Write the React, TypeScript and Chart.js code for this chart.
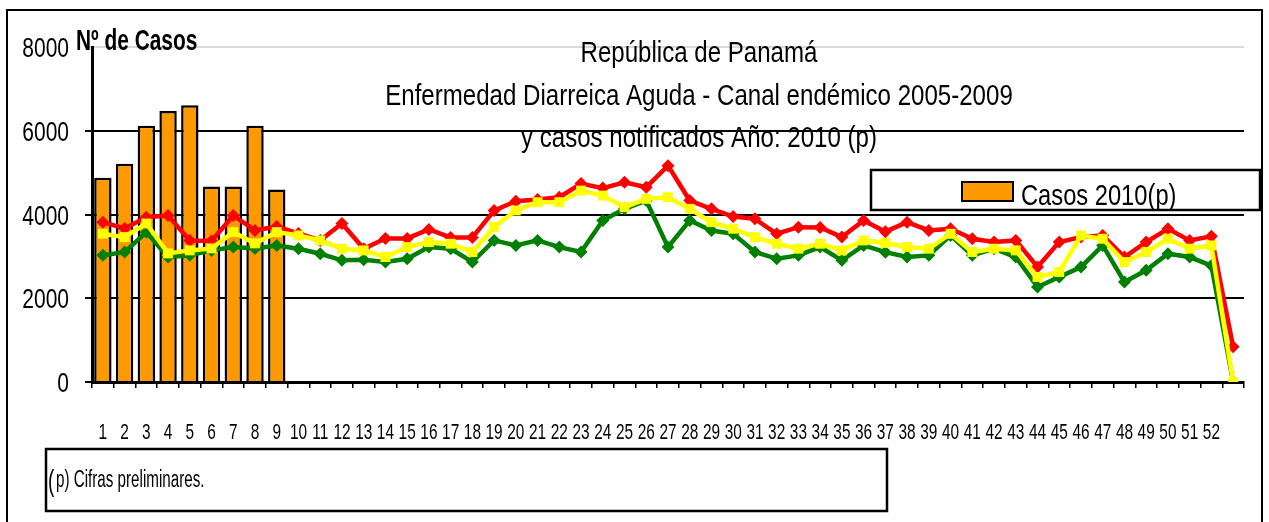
import React, { useEffect, useRef } from "react";
import { Chart, registerables } from "chart.js";

Chart.register(...registerables);

const weeks = [
  "1", "2", "3", "4", "5", "6", "7", "8", "9", "10",
  "11", "12", "13", "14", "15", "16", "17", "18", "19", "20",
  "21", "22", "23", "24", "25", "26", "27", "28", "29", "30",
  "31", "32", "33", "34", "35", "36", "37", "38", "39", "40",
  "41", "42", "43", "44", "45", "46", "47", "48", "49", "50",
  "51", "52", "",
];

const casos2010 = [4880, 5210, 6120, 6470, 6610, 4670, 4670, 6120, 4600];

const zonaAlta = [
  3817, 3667, 3936, 3976, 3381, 3370, 3976, 3619, 3714, 3548,
  3381, 3786, 3180, 3429, 3429, 3643, 3452, 3452, 4095, 4317,
  4357, 4413, 4738, 4630, 4770, 4651, 5167, 4333, 4135, 3952,
  3897, 3540, 3698, 3690, 3460, 3857, 3590, 3817, 3619, 3659,
  3421, 3341, 3381, 2746, 3341, 3460, 3500, 2984, 3341, 3659,
  3381, 3480, 841,
];

const zonaMedia = [
  3540, 3460, 3786, 3071, 3143, 3190, 3579, 3310, 3579, 3500,
  3381, 3183, 3143, 2984, 3222, 3341, 3302, 3103, 3698, 4095,
  4294, 4294, 4571, 4452, 4175, 4373, 4413, 4135, 3817, 3659,
  3460, 3302, 3183, 3302, 3143, 3381, 3320, 3222, 3183, 3540,
  3103, 3183, 3143, 2508, 2627, 3500, 3421, 2865, 3103, 3421,
  3183, 3262, 0,
];

const zonaBaja = [
  3024, 3103, 3579, 2984, 3024, 3143, 3222, 3190, 3262, 3183,
  3063, 2905, 2921, 2865, 2944, 3222, 3183, 2865, 3381, 3262,
  3381, 3222, 3103, 3857, 4135, 4333, 3222, 3857, 3619, 3540,
  3103, 2944, 3024, 3222, 2905, 3262, 3100, 2984, 3024, 3500,
  3024, 3183, 2984, 2270, 2508, 2746, 3262, 2389, 2667, 3063,
  2984, 2780, 0,
];

const yTicks = [0, 2000, 4000, 6000, 8000];

const titleLines = [
  "República de Panamá",
  "Enfermedad Diarreica Aguda - Canal endémico 2005-2009",
  "y casos notificados Año: 2010 (p)",
];
const yAxisTitle = "Nº de Casos";
const legendLabel = "Casos 2010(p)";
const footnote = "p) Cifras preliminares.";

const FONT = "'Liberation Sans', Arial, sans-serif";

function drawText(
  ctx: CanvasRenderingContext2D,
  text: string,
  x: number,
  y: number,
  font: string,
  align: CanvasTextAlign,
  sx = 1
) {
  ctx.save();
  ctx.font = font;
  ctx.fillStyle = "#000";
  ctx.textAlign = align;
  ctx.textBaseline = "alphabetic";
  ctx.translate(x, y);
  ctx.scale(sx, 1);
  ctx.fillText(text, 0, 0);
  ctx.restore();
}

const decoPlugin = {
  id: "deco",
  beforeDraw(chart: any) {
    const ctx = chart.ctx as CanvasRenderingContext2D;
    ctx.save();
    ctx.fillStyle = "#fff";
    ctx.fillRect(0, 0, chart.width, chart.height);
    ctx.restore();
  },
  afterDraw(chart: any) {
    const ctx = chart.ctx as CanvasRenderingContext2D;
    const xs = chart.scales.x;
    const ys = chart.scales.y;
    ctx.save();

    // axis tick labels (positions from the chart's scales)
    weeks.forEach((lab, i) => {
      if (!lab) return;
      drawText(ctx, lab, xs.getPixelForTick(i), 439, `22px ${FONT}`, "center", 0.7);
    });
    yTicks.forEach((v) => {
      drawText(ctx, String(v), 69, ys.getPixelForValue(v) + 10, `28px ${FONT}`, "right", 0.75);
    });

    // outer frame
    ctx.strokeStyle = "#000";
    ctx.lineWidth = 2;
    ctx.strokeRect(7, 10, 1255, 530);

    // title
    drawText(ctx, titleLines[0], 699, 62, `29px ${FONT}`, "center", 0.83);
    drawText(ctx, titleLines[1], 699, 105, `29px ${FONT}`, "center", 0.83);
    drawText(ctx, titleLines[2], 699, 147, `29px ${FONT}`, "center", 0.83);

    // y title
    drawText(ctx, yAxisTitle, 76, 50, `bold 29px ${FONT}`, "left", 0.72);

    // legend
    ctx.fillStyle = "#fff";
    ctx.fillRect(871, 170, 389, 40);
    ctx.lineWidth = 2.5;
    ctx.strokeStyle = "#000";
    ctx.strokeRect(871, 170, 389, 40);
    ctx.fillStyle = "#FF9900";
    ctx.fillRect(962, 182, 51, 19);
    ctx.lineWidth = 2;
    ctx.strokeRect(962, 182, 51, 19);
    drawText(ctx, legendLabel, 1021, 205, `30px ${FONT}`, "left", 0.79);

    // footnote
    ctx.lineWidth = 2.5;
    ctx.strokeRect(46, 449, 841, 62);
    drawText(ctx, "(", 48, 491, `29px ${FONT}`, "left", 0.66);
    drawText(ctx, footnote, 56, 487, `23px ${FONT}`, "left", 0.66);
    ctx.restore();
  },
};

export default function App() {
  const ref = useRef<HTMLCanvasElement | null>(null);
  useEffect(() => {
    if (!ref.current) return;
    const chart = new Chart(ref.current, {
      data: {
        labels: weeks,
        datasets: [
          {
            type: "line",
            label: "Superior",
            data: zonaAlta,
            borderColor: "#FF0000",
            backgroundColor: "#FF0000",
            borderWidth: 4.5,
            pointStyle: "rectRot",
            pointRadius: 6.5,
            pointBorderWidth: 0,
            order: 2,
          },
          {
            type: "line",
            label: "Mediana",
            data: zonaMedia,
            borderColor: "#FFFF00",
            backgroundColor: "#FFFF00",
            borderWidth: 4.5,
            pointStyle: "rect",
            pointRadius: 7,
            pointBorderWidth: 0,
            order: 1,
          },
          {
            type: "line",
            label: "Inferior",
            data: zonaBaja,
            borderColor: "#008000",
            backgroundColor: "#008000",
            borderWidth: 4.5,
            pointStyle: "rectRot",
            pointRadius: 6.5,
            pointBorderWidth: 0,
            order: 3,
          },
          {
            type: "bar",
            label: legendLabel,
            data: casos2010,
            backgroundColor: "#FF9900",
            borderColor: "#000",
            borderWidth: 2.5,
            barPercentage: 0.8,
            categoryPercentage: 1,
            order: 10,
          },
        ],
      },
      options: {
        responsive: false,
        animation: false,
        layout: { padding: { left: 0, right: 25, top: 47, bottom: 0 } },
        plugins: {
          legend: { display: false },
          title: { display: false },
          tooltip: { enabled: false },
        },
        scales: {
          x: {
            type: "category",
            offset: true,
            grid: {
              offset: true,
              drawOnChartArea: false,
              color: "#000",
              lineWidth: 1.5,
              tickLength: 6,
            },
            border: { color: "#000", width: 3 },
            ticks: { display: false, autoSkip: false },
            afterFit: (s: any) => {
              s.height = 140;
            },
          },
          y: {
            min: 0,
            max: 8000,
            afterBuildTicks: (s: any) => {
              s.ticks = yTicks.map((v) => ({ value: v }));
            },
            grid: {
              color: (c: any) => (c.tick && c.tick.value === 8000 ? "#d9d9d9" : "#000"),
              lineWidth: 2,
              tickLength: 7,
            },
            border: { color: "#000", width: 3 },
            ticks: { display: false },
            afterFit: (s: any) => {
              s.width = 92;
            },
          },
        },
      },
      plugins: [decoPlugin],
    } as any);
    return () => chart.destroy();
  }, []);
  return (
    <div style={{ position: "fixed", left: 0, top: 0, width: 1269, height: 522 }}>
      <canvas ref={ref} width={1269} height={522} style={{ display: "block", width: 1269, height: 522 }} />
    </div>
  );
}
